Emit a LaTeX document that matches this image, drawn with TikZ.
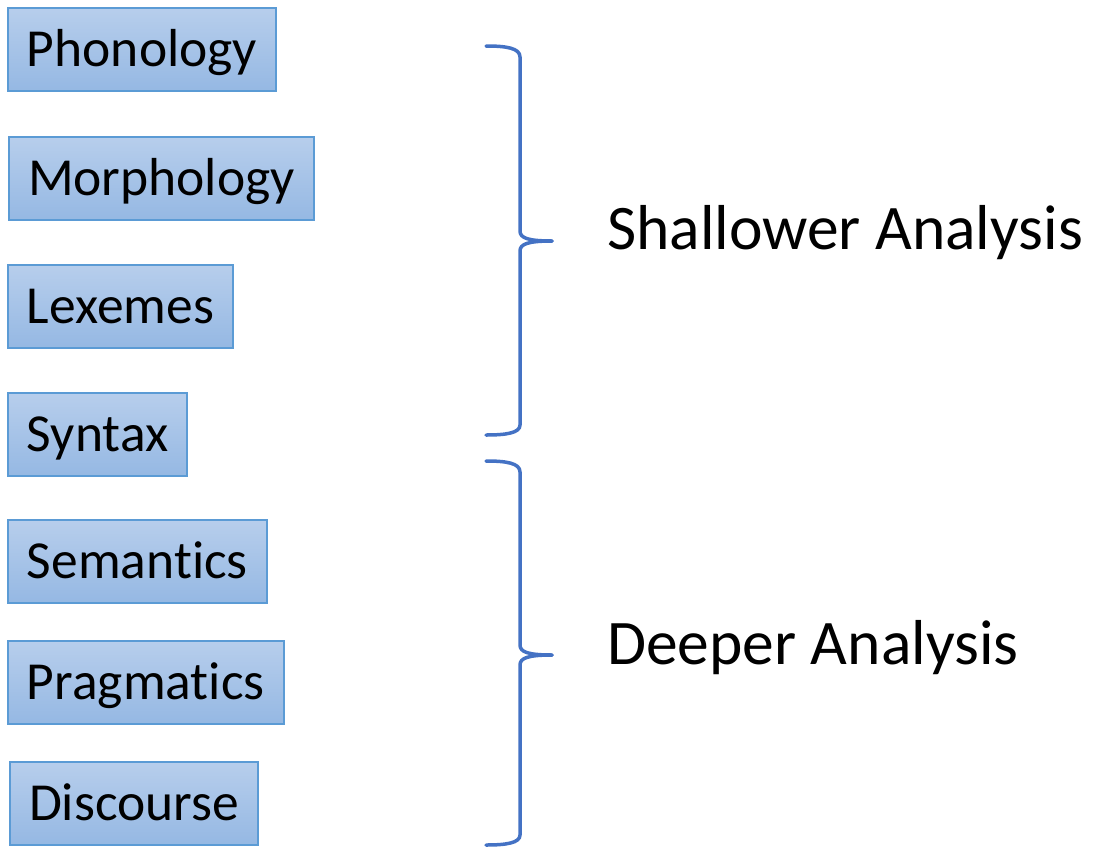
\documentclass[tikz,border=0pt]{standalone}
\usepackage{fontspec}
\setmainfont{Carlito}[Ligatures=CommonOff]
\usetikzlibrary{positioning}
\definecolor{boxtop}{RGB}{183,206,236}
\definecolor{boxbottom}{RGB}{149,184,227}
\definecolor{boxline}{RGB}{91,155,213}
\definecolor{bracecol}{RGB}{68,114,196}
\tikzset{
    levelbox/.style = {
        rectangle,
        draw=boxline,
        line width=2pt,
        top color=boxtop,
        bottom color=boxbottom,
        minimum height=83pt,
        inner xsep=19pt,
        text height=34pt,
        text depth=0pt,
        font=\fontsize{53.5}{64}\selectfont,
    },
    analysis/.style = {
        inner sep=0pt,
        anchor=base west,
        font=\fontsize{63.5}{76}\selectfont,
    },
}
\tikzstyle{bracket} = [line width=3.5pt, draw=bracecol, line join=round, line cap=round]
\begin{document}
\begin{tikzpicture}[x=1pt, y=-1pt]
        \useasboundingbox (0,0) rectangle (1093,847);

        \node(phon) [levelbox, anchor=north west] at (7,7)
        {Phonology};
        \node(morph)[levelbox, below = 44pt of phon.south west, anchor=north west, xshift=1pt]
        {Morphology};
        \node(lex)[levelbox, below = 43pt of morph.south west, anchor=north west, xshift=-1pt]
        {Lexemes};
        \node(syn)[levelbox, below = 43pt of lex.south west, anchor=north west]
        {Syntax};
        \node(sem)[levelbox, below = 42pt of syn.south west, anchor=north west]
        {Semantics};
        \node(prag)[levelbox, below = 36pt of sem.south west, anchor=north west]
        {Pragmatics};
        \node(disc)[levelbox, below = 36pt of prag.south west, anchor=north west, xshift=2pt]
        {Discourse};

        \coordinate (shallowTop) at (486,46);
        \coordinate (shallowTip) at (552,241);
        \coordinate (shallowEnd) at (486,435);
        \coordinate (deepTop) at (486,461);
        \coordinate (deepTip) at (552,655);
        \coordinate (deepEnd) at (486,845);

        \draw [bracket] (shallowTop) .. controls (506,46) and (520,48) .. (520,57)
            -- (520,231) .. controls (520,238) and (528,241) .. (shallowTip);
        \draw [bracket] (shallowTip) .. controls (528,241) and (520,244) .. (520,251)
            -- (520,425) .. controls (520,433) and (506,435) .. (shallowEnd);
        \draw [bracket] (deepTop) .. controls (506,461) and (520,463) .. (520,472)
            -- (520,645) .. controls (520,652) and (528,655) .. (deepTip);
        \draw [bracket] (deepTip) .. controls (528,655) and (520,658) .. (520,665)
            -- (520,835) .. controls (520,843) and (506,845) .. (deepEnd);

        \node(shallow) [analysis] at (607,249)
        {Shallower Analysis};
        \node(deep) [analysis] at (607,664)
        {Deeper Analysis};

    \end{tikzpicture}
\end{document}
